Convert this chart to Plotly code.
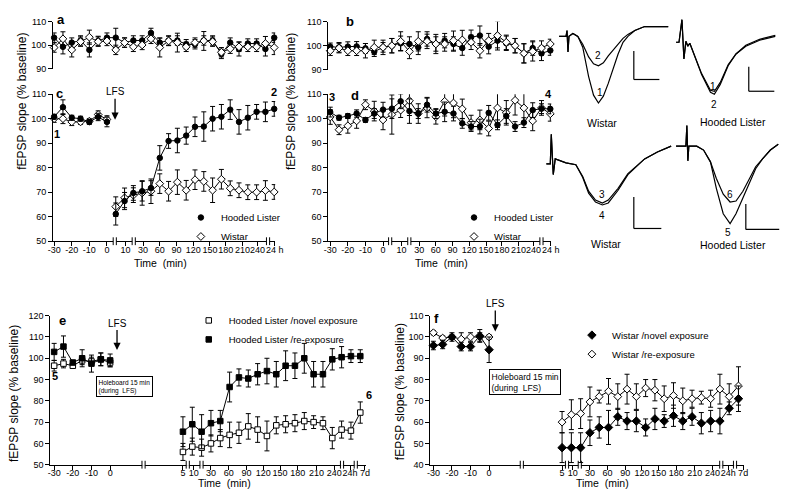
import plotly.graph_objects as go

W, H = 800, 504
FONT = "Liberation Sans, Arial, Helvetica, sans-serif"

# ====================== DATA ======================
# Panels a-d: 26 sampling times (min), plotted at equal spacing
TIME_ABCD = ["-30", "-25", "-20", "-15", "-10", "-5", "0", "5", "10", "15", "30", "45", "60",
             "75", "90", "105", "120", "135", "150", "165", "180", "195", "210", "225", "240", "24 h"]
TICK_ABCD = ["-30", "-20", "-10", "0", "10", "30", "60", "90", "120", "150", "180", "210", "240", "24 h"]

# a: no LFS (Hooded Lister filled, Wistar open)
A_HL = [103.2, 99.3, 101.1, 102, 98, 101.8, 103.2, 103.2, 101.1, 102, 102, 105.2, 101.1, 102, 102,
        100.4, 100.4, 102, 102, 96.3, 101.1, 98.4, 100.7, 100.7, 98.4, 103.2]
A_HL_ERR = [2, 3, 2, 2, 3, 2, 2, 4, 2, 2, 2, 2, 2, 2, 2, 2, 2, 2, 2, 2, 2, 3, 2, 2, 3, 2]
A_W = [99, 102.7, 98, 101.5, 103.4, 101.5, 101.8, 98, 101.1, 99.3, 100.1, 102.7, 99, 101.8, 101.1,
       99.3, 101.1, 101.8, 101.5, 97, 98.5, 99.3, 99.3, 99.3, 100.7, 99]
A_W_ERR = [2, 3, 3, 2, 3, 2, 2, 2, 2, 2, 2, 2, 4, 2, 4, 2, 2, 4, 2, 2, 2, 2, 2, 2, 3, 3]

# b
B_HL = [99.6, 99.3, 99.6, 99.7, 98.9, 97.5, 99.3, 100, 101, 100.7, 99.3, 102.8, 100.7, 102.1, 100.7,
        99, 103.5, 104.2, 99.6, 102.1, 101, 100, 96.8, 99, 96.8, 98]
B_HL_ERR = [1.5, 2, 2, 2, 2, 2, 2, 3, 3, 3, 3, 3, 3, 3, 3, 3, 3, 4, 3, 3, 3, 3, 4, 3, 3, 2]
B_W = [97.9, 99, 97.9, 97.9, 97.9, 99.3, 99.3, 100, 101.8, 97.6, 101.8, 101.8, 100.7, 100.7, 102.1,
       102.4, 101.4, 97.9, 102.1, 104.2, 101.4, 100, 96.8, 97.6, 99, 100.7]
B_W_ERR = [2, 2, 2, 2, 3, 3, 3, 3, 4, 3, 4, 3, 4, 3, 4, 4, 3, 3, 3, 6, 3, 3, 4, 4, 3, 2]

# c: LFS after time 0
C_HL = [100.8, 104.7, 100.4, 100, 98.7, 100.7, 98.7,
        61.1, 66.4, 69.7, 70.4, 71.7, 84, 90.9, 91.1, 93.1, 96.7, 96.8, 100, 100.8, 103.7, 98.7,
        100.4, 102.8, 102.8, 104]
C_HL_ERR = [1, 3, 1, 1, 1, 1.5, 2, 4.5, 3.5, 3, 4, 3, 5, 3, 5, 3.5, 4, 6, 5, 5, 4, 5, 5, 3, 4, 3]
C_W = [100, 100, 98.7, 98.7, 99, 101.7, 99.7,
       64.1, 67.7, 68.8, 69.7, 70.4, 73.5, 70.4, 74.1, 70.8, 75.1, 74.4, 70.8, 75.3, 71.6, 70.8,
       70, 70, 70.7, 70.1]
C_W_ERR = [1.5, 2, 1.5, 1, 1, 1.5, 1.5, 4, 4, 3, 5, 5, 4, 4, 5, 4, 4, 4, 5, 4, 3, 3, 3, 3, 4, 3]

# d
D_HL = [102.7, 100.4, 101.1, 102.1, 99.5, 102.1, 103.7, 104.1, 107.1, 103.1, 102.1, 105.7, 102.1,
        102.8, 102.1, 98.1, 96.8, 96.8, 102.4, 97.5, 101.1, 96.8, 98.4, 103.5, 104.1, 104]
D_HL_ERR = [2, 1, 1, 1.5, 1, 2, 3, 4, 3, 5, 2, 3, 2, 4, 3, 2, 2, 3, 3, 2, 3, 2, 2, 3, 2, 2]
D_W = [100.7, 95.5, 97.1, 99.1, 105.7, 103.1, 99.5, 101.7, 103.5, 107.3, 102.1, 104.4, 100.8, 107.1,
       106.4, 104, 98.4, 99.5, 96, 104.4, 102.4, 107.5, 104.4, 99.1, 104.4, 102]
D_W_ERR = [3, 2, 3, 3, 2, 4, 4, 8, 3, 6, 4, 4, 3, 6, 6, 4, 3, 4, 3, 8, 5, 6, 6, 4, 3, 3]

# Panels e, f: 7 baseline + 20 post-LFS sampling times
TIME_EF = ["-30", "-25", "-20", "-15", "-10", "-5", "0", "5", "10", "15", "30", "45", "60", "75",
           "90", "105", "120", "135", "150", "165", "180", "195", "210", "225", "240", "24h", "7d"]
TICK_EF = ["-30", "-20", "-10", "0", "5", "10", "30", "60", "90", "120", "150", "180", "210",
           "240", "24h", "7d"]

E_NOV = [96.5, 97.5, 96.5, 99, 98.5, 99.5, 98,
         56, 58.5, 58, 60, 62.5, 64, 65, 68, 66.5, 63.5, 68.5, 69, 69.5, 70.5, 70, 69.5, 62.5,
         66.5, 66, 74.5]
E_NOV_ERR = [2.5, 2, 1, 2, 2, 3, 2, 4, 4, 4, 4, 4, 6, 5, 6, 6, 7, 4, 4, 4, 4, 3, 3, 5, 4, 4, 5]
E_RE = [103, 105.5, 98, 100, 97.5, 99.5, 99,
        65.5, 69, 65.5, 69.5, 70.5, 86.5, 91, 90.5, 92.5, 94, 92.5, 96.5, 96.5, 100, 92.5, 92.5,
        99.5, 100.5, 101, 101]
E_RE_ERR = [4, 5, 1, 4, 4, 3, 3, 7, 8, 8, 6, 5, 7, 4, 4, 5, 6, 6, 7, 6, 7, 6, 6, 5, 5, 3, 3]

F_NOV = [96, 96.5, 100, 95.5, 95.5, 100.5, 94,
         48, 48, 48, 55, 57.5, 57.5, 62.5, 60.5, 60.5, 57.5, 61.5, 60.5, 63, 60.5, 62.5, 59.5,
         60.5, 60.5, 66.5, 71]
F_NOV_ERR = [2, 2, 2, 2, 2, 3, 6, 7, 7, 7, 6, 5, 8, 4, 4, 5, 4, 5, 3, 5, 4, 4, 5, 5, 6, 3, 6]
F_RE = [102, 99.5, 100, 99, 100, 100, 100,
        60, 63.5, 64, 69.5, 72, 74.5, 72, 75.5, 72, 76, 75, 71, 72.5, 70, 71, 71.5, 71, 75.5,
        72, 77]
F_RE_ERR = [1, 1, 1, 3, 2, 2, 1, 5, 7, 7, 7, 3, 6, 6, 7, 6, 4, 5, 6, 6, 6, 4, 3, 4, 7, 6, 9]

# Example fEPSP waveforms (sample index, relative amplitude)
W1_T = [0, 7, 8, 9, 10, 14, 19, 24, 30, 35, 40, 45, 50, 55, 60, 65, 70, 77, 87, 111]
W1_V1 = [0, 0, 6, -16, 0, 3, 0, -11, -41, -60, -68, -61, -48, -33, -18, -6, 0, 6, 10, 10]
W1_V2 = [0, 0, 6, -16, 0, 3, 0, -8, -21, -28, -30, -27, -20, -14, -8, -2, 2, 6, 10, 10]
H1_T = [0, 3, 6, 8, 10, 12, 14, 18, 26, 35, 39, 45, 53, 61, 71, 85, 101]
H1_V1 = [0, 0, 23, -17, 1, -4, -1, -12, -32, -49, -50, -41, -23, -12, -4, 2, 6]
H1_V2 = [0, 0, 23, -17, 1, -4, -1, -12, -33, -51, -53, -43, -24, -12, -3, 3, 7]
W2_T = [0, 4, 5, 7, 9, 12, 20, 30, 37, 43, 50, 57, 63, 73, 83, 100, 113, 127]
W2_V3 = [0, 0, 30, -11, 5, 4, 1, -1, -13, -28, -37, -40, -37, -25, -10, 5, 12, 18]
W2_V4 = [0, 0, 30, -11, 5, 4, 1, -1, -14, -30, -39, -42, -40, -27, -11, 5, 12, 18]
H2_T = [0, 10, 11, 12, 13, 21, 28, 35, 41, 48, 55, 61, 68, 75, 81, 88, 96, 104]
H2_V5 = [0, 0, 21, -15, 0, 0, -4, -16, -43, -69, -79, -69, -53, -36, -23, -13, -4, 2]
H2_V6 = [0, 0, 21, -15, 0, 0, -4, -16, -33, -49, -57, -56, -46, -33, -21, -13, -4, 2]

# ====================== LAYOUT HELPERS ======================
def fx(px):
    return px / W


def fy(py):
    return 1 - py / H


fig = go.Figure()

# panel geometry in pixels
PANELS = {
    "a": dict(n="", xl=48, xr=274, p0=49, sp=8.96, yt=17, yb=65, yr=[90, 110], showx=False),
    "c": dict(n="2", xl=48, xr=274, p0=49, sp=8.96, yt=91, yb=241, yr=[50, 110], showx=True),
    "b": dict(n="3", xl=328, xr=555, p0=330, sp=8.96, yt=17, yb=66, yr=[90, 110], showx=False),
    "d": dict(n="4", xl=328, xr=555, p0=330, sp=8.96, yt=91, yb=241, yr=[50, 110], showx=True),
    "e": dict(n="5", xl=45, xr=366, p0=49, sp=9.5, yt=317, yb=469, yr=[50, 120], showx=True),
    "f": dict(n="6", xl=432, xr=751, p0=435, sp=9.45, yt=317, yb=469, yr=[40, 110], showx=True),
}
POST0 = {"e": 13.8, "f": 13.86}   # slot of first post-LFS point
TICKPOS_ABCD = [0, 2, 4, 6, 8.1, 10.1, 12, 13.9, 15.8, 17.7, 19.5, 21.4, 23.1, 25.05]
TICKREL_EF_POST = [0, 1.15, 3, 4.9, 6.8, 8.6, 10.4, 12.3, 14.3, 16.2, 17.9, 19.5]

AXFONT = dict(family=FONT, size=9, color="black")

for key, p in PANELS.items():
    n = p["n"]
    xrng = [(p["xl"] - p["p0"]) / p["sp"], (p["xr"] - p["p0"]) / p["sp"]]
    xa = dict(domain=[fx(p["xl"]), fx(p["xr"])], range=xrng, anchor="y" + n,
              showgrid=False, zeroline=False, fixedrange=True)
    if p["showx"]:
        if key in ("c", "d"):
            tv, tt = TICKPOS_ABCD, TICK_ABCD
        else:
            tv = [0, 2, 4, 6] + [POST0[key] + r for r in TICKREL_EF_POST]
            tt = TICK_EF
        xa.update(showline=True, linecolor="black", linewidth=1, ticks="outside", ticklen=4,
                  tickwidth=1, tickcolor="black", tickvals=tv, ticktext=tt, tickangle=0,
                  tickfont=AXFONT, ticklabelstandoff=-4)
    else:
        xa.update(visible=False)
    ya = dict(domain=[fy(p["yb"]), fy(p["yt"])], range=p["yr"], anchor="x" + n,
              showline=True, linecolor="black", linewidth=1, ticks="outside", ticklen=4,
              tickwidth=1, tickcolor="black", tickvals=list(range(p["yr"][0], p["yr"][1] + 1, 10)),
              showgrid=False, zeroline=False, tickfont=AXFONT, fixedrange=True)
    fig.layout["xaxis" + n] = xa
    fig.layout["yaxis" + n] = ya


def series(xs, ys, errs, key, sym, filled, size):
    n = PANELS[key]["n"]
    fig.add_trace(go.Scatter(
        x=xs, y=ys, mode="lines+markers", xaxis="x" + n, yaxis="y" + n,
        line=dict(color="black", width=1),
        marker=dict(symbol=sym, size=size, color="black" if filled else "white",
                    line=dict(color="black", width=1)),
        error_y=dict(type="data", array=errs, color="black", thickness=1, width=2.5),
        cliponaxis=False, showlegend=False, hoverinfo="skip"))


def legend_entry(key, name, sym, filled, size, legend):
    n = PANELS[key]["n"]
    fig.add_trace(go.Scatter(
        x=[None], y=[None], mode="markers", xaxis="x" + n, yaxis="y" + n, name=name,
        marker=dict(symbol=sym, size=size, color="black" if filled else "white",
                    line=dict(color="black", width=1)),
        legend=legend, showlegend=True))


SZ_C, SZ_D, SZ_S, SZ_FD = 5.5, 6, 5.5, 6.5
idx_abcd = list(range(len(TIME_ABCD)))
NB = 7  # baseline points

# a, b, d: continuous
series(idx_abcd, A_HL, A_HL_ERR, "a", "circle", True, SZ_C)
series(idx_abcd, A_W, A_W_ERR, "a", "diamond", False, SZ_D)
series(idx_abcd, B_HL, B_HL_ERR, "b", "circle", True, SZ_C)
series(idx_abcd, B_W, B_W_ERR, "b", "diamond", False, SZ_D)
series(idx_abcd, D_W, D_W_ERR, "d", "diamond", False, SZ_D)
series(idx_abcd, D_HL, D_HL_ERR, "d", "circle", True, SZ_C)

# c: baseline and post-LFS segments
for sl in (slice(0, NB), slice(NB, None)):
    series(idx_abcd[sl], C_W[sl], C_W_ERR[sl], "c", "diamond", False, SZ_D)
    series(idx_abcd[sl], C_HL[sl], C_HL_ERR[sl], "c", "circle", True, SZ_C)


def ef_x(key):
    return [i if i < NB else POST0[key] + (i - NB) for i in range(len(TIME_EF))]


xe, xf = ef_x("e"), ef_x("f")
for sl in (slice(0, NB), slice(NB, None)):
    series(xe[sl], E_NOV[sl], E_NOV_ERR[sl], "e", "square", False, SZ_S)
    series(xe[sl], E_RE[sl], E_RE_ERR[sl], "e", "square", True, SZ_S)
    series(xf[sl], F_RE[sl], F_RE_ERR[sl], "f", "diamond", False, SZ_D)
    series(xf[sl], F_NOV[sl], F_NOV_ERR[sl], "f", "diamond", True, SZ_FD)

legend_entry("c", "Hooded Lister", "circle", True, SZ_C, "legend")
legend_entry("c", "Wistar", "diamond", False, SZ_D, "legend")
legend_entry("d", "Hooded Lister", "circle", True, SZ_C, "legend2")
legend_entry("d", "Wistar", "diamond", False, SZ_D, "legend2")
legend_entry("e", "Hooded Lister /novel exposure", "square", False, SZ_S, "legend3")
legend_entry("e", "Hooded Lister /re-exposure", "square", True, SZ_S, "legend3")
legend_entry("f", "Wistar /novel exposure", "diamond", True, SZ_FD, "legend4")
legend_entry("f", "Wistar /re-exposure", "diamond", False, SZ_D, "legend4")

LEGFONT = dict(family=FONT, size=9.5, color="black")
for name, (lx, ly) in {"legend": (178, 202), "legend2": (456, 202),
                       "legend3": (186, 307), "legend4": (576, 322)}.items():
    fig.layout[name] = dict(x=fx(lx), y=fy(ly), xanchor="left", yanchor="top",
                            bgcolor="rgba(0,0,0,0)", font=LEGFONT, tracegroupgap=0,
                            itemclick=False, itemdoubleclick=False)

# ---------- waveform insets ----------
INSETS = [
    dict(T=W1_T, V=[W1_V1, W1_V2], origin=(563, 32), box=(556, 10, 682, 110)),
    dict(T=H1_T, V=[H1_V1, H1_V2], origin=(682, 38), box=(678, 8, 792, 100)),
    dict(T=W2_T, V=[W2_V3, W2_V4], origin=(550, 162), box=(548, 120, 682, 212)),
    dict(T=H2_T, V=[H2_V5, H2_V6], origin=(682, 144), box=(680, 112, 792, 232)),
]
for k, ins in enumerate(INSETS):
    n = str(7 + k)
    ox, oy = ins["origin"]
    bx0, by0, bx1, by1 = ins["box"]
    fig.layout["xaxis" + n] = dict(domain=[fx(bx0), fx(bx1)], range=[bx0 - ox, bx1 - ox],
                                   visible=False, anchor="y" + n, fixedrange=True)
    fig.layout["yaxis" + n] = dict(domain=[fy(by1), fy(by0)], range=[oy - by1, oy - by0],
                                   visible=False, anchor="x" + n, fixedrange=True)
    for v in ins["V"]:
        fig.add_trace(go.Scatter(x=ins["T"], y=v, mode="lines", xaxis="x" + n, yaxis="y" + n,
                                 line=dict(color="black", width=1.2), showlegend=False,
                                 hoverinfo="skip", cliponaxis=False))

# ---------- shapes: axis breaks & scale bars ----------
shapes = []
BREAKS = {241: [110.7, 130, 266.7, 391, 410.5, 545],
          469: [140, 185, 199, 342, 356, 525, 571, 584, 728, 742]}
for ay, xs in BREAKS.items():
    for bx in xs:
        shapes.append(dict(type="rect", xref="paper", yref="paper", x0=fx(bx - 1.6), x1=fx(bx + 1.6),
                           y0=fy(ay + 1.2), y1=fy(ay - 1.2), fillcolor="white",
                           line=dict(width=0), layer="above"))
        for dx in (-1.6, 1.6):
            shapes.append(dict(type="line", xref="paper", yref="paper", x0=fx(bx + dx), x1=fx(bx + dx),
                               y0=fy(ay + 4), y1=fy(ay - 4), line=dict(color="black", width=1)))

SCALEBARS = [(639, 47, 76, 665), (756, 63, 88, 782), (639, 196, 228, 667), (753, 203, 229, 787)]
for (sx, sy0, sy1, sx1) in SCALEBARS:
    shapes.append(dict(type="line", xref="paper", yref="paper", x0=fx(sx), x1=fx(sx),
                       y0=fy(sy0), y1=fy(sy1), line=dict(color="black", width=1.2)))
    shapes.append(dict(type="line", xref="paper", yref="paper", x0=fx(sx), x1=fx(sx1),
                       y0=fy(sy1), y1=fy(sy1), line=dict(color="black", width=1.2)))
fig.layout.shapes = shapes

# ---------- annotations ----------
ann = []


def text(px, py, s, size=10, bold=False, angle=0, xanchor="center", yanchor="middle"):
    ann.append(dict(x=fx(px), y=fy(py), xref="paper", yref="paper", text=f"<b>{s}</b>" if bold else s,
                    showarrow=False, textangle=angle, xanchor=xanchor, yanchor=yanchor,
                    font=dict(family=FONT, size=size, color="black")))


YT = "fEPSP slope (% baseline)"
text(16, 98, YT, 12, angle=-90)
text(290, 98, YT, 12, angle=-90)
text(8, 396, YT, 12, angle=-90)
text(401, 394, YT, 12, angle=-90)
XT = "Time\u00a0\u00a0(min)"
text(157, 263, XT, 10.5)
text(443, 263, XT, 10.5)
text(222, 488, XT, 10.5)
text(607, 488, XT, 10.5)

for lab, (px, py) in {"a": (56, 15), "b": (350, 17), "c": (54, 90), "d": (355, 92),
                      "e": (57, 322), "f": (438, 320)}.items():
    text(px, py, lab, 13, bold=True)
for lab, (px, py) in {"1": (52, 132), "2": (273, 89), "3": (332, 94), "4": (552, 91),
                      "5": (50, 379), "6": (369, 398)}.items():
    text(px, py, lab, 11, bold=True)

# inset labels
for lab, (px, py) in {"2": (603, 52), "1": (605, 89), "1 ": (720, 83), "2 ": (721, 102),
                      "3": (607, 193), "4": (607, 215), "6": (737, 193), "5": (735, 232)}.items():
    text(px, py, lab.strip(), 10)
text(607, 120, "Wistar", 10.5)
text(740, 119, "Hooded Lister", 10.5)
text(611, 244, "Wistar", 10.5)
text(740, 245, "Hooded Lister", 10.5)

# LFS arrows
for (tx, ty, dy) in [(111, 117, -28), (113, 352, -27), (498, 333, -28)]:
    ann.append(dict(x=fx(tx), y=fy(ty), xref="paper", yref="paper", text="LFS", showarrow=True,
                    ax=0, ay=dy, arrowhead=2, arrowsize=1.1, arrowwidth=1.3, arrowcolor="black",
                    standoff=0, font=dict(family=FONT, size=10, color="black")))

# Holeboard boxes
for (bx, by, fs) in [(92, 379, 6.5), (492, 371, 8.5)]:
    ann.append(dict(x=fx(bx), y=fy(by), xref="paper", yref="paper",
                    text="Holeboard 15 min<br>(during\u00a0 LFS)", showarrow=False, align="left",
                    xanchor="left", yanchor="top", bordercolor="black", borderwidth=1,
                    borderpad=1.5, bgcolor="white", font=dict(family=FONT, size=fs, color="black")))

fig.layout.annotations = ann

fig.update_layout(width=W, height=H, autosize=False, margin=dict(l=0, r=0, t=0, b=0),
                  paper_bgcolor="white", plot_bgcolor="white", showlegend=True,
                  font=dict(family=FONT, color="black"))

fig.write_html("out.html", config={"displayModeBar": False},
               post_script="document.body.style.margin='0';document.body.style.padding='0';")
